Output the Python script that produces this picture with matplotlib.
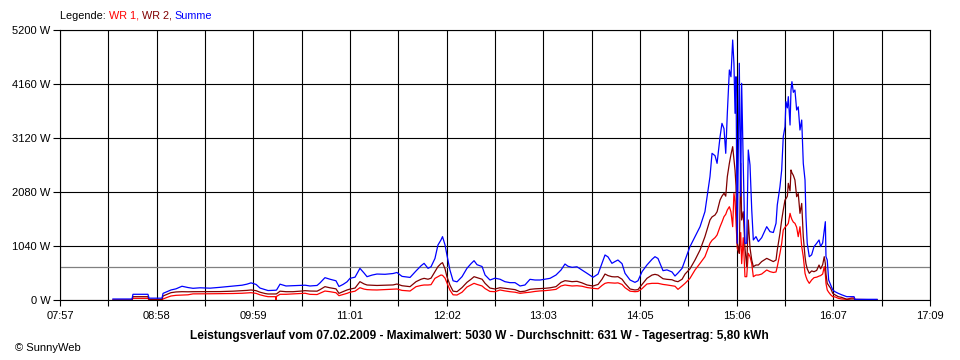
import numpy as np
import matplotlib
matplotlib.use('Agg')
import matplotlib.pyplot as plt

plt.rcParams['font.family'] = ['Liberation Sans', 'DejaVu Sans']

# --- Data (time in minutes since midnight, power in W) ---
t_min = [510.6, 522.7, 523.3, 532.8, 533.5, 541.7, 542.4, 544.9, 547.4, 550.6,
         554.4, 558.2, 561.4, 565.8, 572.2, 578.5, 586.8, 592.5, 595.6, 598.2,
         601.4, 603.9, 607.1, 609.0, 612.1, 613.7, 614.0, 614.4, 616.6, 620.4,
         624.8, 629.3, 632.5, 635.6, 640.1, 642.0, 645.1, 648.3, 652.1, 654.0,
         656.6, 659.1, 661.0, 664.2, 667.3, 669.9, 671.8, 675.0, 678.1, 683.2,
         688.3, 690.8, 694.0, 699.1, 702.9, 706.1, 708.0, 710.5, 712.4, 714.9,
         716.8, 718.7, 719.7, 721.3, 722.5, 724.4, 726.4, 728.9, 732.1, 735.2,
         737.8, 739.7, 741.6, 744.8, 746.7, 749.8, 753.0, 756.2, 759.3, 762.5,
         765.7, 768.9, 772.0, 775.2, 778.4, 781.6, 784.7, 787.9, 791.7, 794.9,
         797.4, 799.3, 801.9, 805.0, 808.2, 811.4, 815.2, 818.4, 820.9, 822.8,
         824.7, 827.2, 829.1, 831.0, 833.6, 835.5, 838.7, 841.8, 843.7, 846.3,
         849.4, 852.6, 854.5, 856.4, 859.6, 862.1, 865.3, 867.2, 869.1, 871.7,
         873.6, 876.7, 879.9, 883.1, 886.2, 889.4, 890.7, 892.6, 893.9, 895.8,
         897.0, 898.3, 899.4, 900.4, 901.7, 902.7, 903.8, 904.6, 905.3, 905.9,
         906.7, 908.0, 908.9, 909.5, 910.5, 911.6, 912.7, 913.7, 914.8, 915.9,
         916.9, 918.6, 920.1, 922.2, 925.4, 927.5, 929.6, 931.3, 932.1, 933.8,
         934.9, 935.9, 937.0, 937.6, 938.5, 939.1, 940.2, 940.8, 941.4, 942.3,
         943.3, 944.4, 945.4, 946.5, 947.6, 948.6, 949.7, 950.3, 951.1, 952.4,
         953.9, 955.4, 957.1, 958.6, 959.6, 960.9, 961.9, 962.6, 963.0, 963.8,
         964.7, 966.0, 967.3, 968.7, 970.8, 973.0, 976.2, 979.3, 980.8, 981.4,
         995.4]

summe = [19, 19, 110, 110, 35, 35, 128, 160, 193, 215,
         265, 240, 225, 235, 228, 244, 268, 285, 305, 330,
         300, 230, 200, 182, 185, 188, 190, 192, 305, 270,
         275, 280, 285, 270, 280, 330, 430, 400, 370, 260,
         300, 350, 417, 440, 610, 520, 449, 480, 500, 495,
         510, 530, 455, 435, 560, 660, 706, 610, 640, 800,
         1059, 1155, 1220, 1060, 867, 578, 370, 350, 450, 610,
         700, 757, 680, 645, 481, 385, 420, 400, 353, 334,
         334, 270, 289, 398, 385, 385, 400, 417, 481, 578,
         693, 650, 629, 640, 578, 514, 437, 500, 706, 867,
         830, 706, 740, 770, 700, 514, 385, 340, 370, 546,
         674, 783, 834, 800, 565, 580, 540, 462, 520, 610,
         770, 1027, 1220, 1412, 1701, 2375, 2825, 2780, 2632, 3145,
         3402, 3300, 2825, 3595, 4430, 4300, 5007, 4559, 3595, 4300,
         1092, 4559, 2000, 4173, 2632, 1092, 1092, 2889, 2600, 1733,
         1156, 1220, 1125, 1200, 1412, 1316, 1300, 1477, 1830, 2183,
         2504, 3145, 3338, 3820, 3700, 3916, 3370, 4044, 4205, 4000,
         4044, 3659, 3720, 3274, 3466, 2632, 2311, 1605, 1092, 834,
         870, 1027, 1092, 1156, 1030, 1100, 1348, 1508, 834, 770,
         385, 290, 193, 160, 128, 100, 64, 64, 64, 13,
         13]

wr2 = [0, 0, 64, 64, 10, 10, 77, 110, 141, 155,
       160, 158, 160, 160, 160, 162, 170, 180, 185, 193,
       180, 150, 125, 116, 115, 116, 118, 118, 170, 160,
       160, 170, 180, 173, 170, 200, 257, 235, 215, 128,
       160, 193, 210, 230, 353, 310, 289, 285, 280, 285,
       290, 308, 275, 257, 353, 400, 417, 400, 420, 546,
       642, 700, 719, 600, 450, 289, 170, 160, 240, 340,
       400, 449, 430, 400, 321, 230, 212, 237, 225, 212,
       200, 160, 170, 205, 215, 220, 225, 235, 257, 340,
       372, 365, 353, 360, 330, 289, 270, 300, 400, 500,
       470, 449, 445, 449, 400, 321, 212, 193, 200, 300,
       417, 480, 494, 480, 410, 398, 390, 365, 353, 400,
       500, 600, 770, 963, 1220, 1541, 1600, 1637, 1700, 1926,
       2000, 2055, 2000, 2375, 2632, 2800, 2953, 2700, 2500, 2200,
       1100, 899, 2632, 1541, 1700, 1000, 642, 1541, 1000, 770,
       642, 674, 674, 740, 802, 770, 740, 770, 963, 1284,
       1541, 1733, 1926, 1950, 2000, 2247, 2100, 2504, 2450, 2400,
       2311, 1990, 2050, 1669, 1860, 1220, 834, 700, 600, 514,
       560, 545, 570, 674, 600, 680, 834, 700, 500, 321,
       280, 225, 128, 100, 64, 50, 13, 20, 20, 10,
       5]

wr1 = [0, 0, 32, 32, 0, 0, 20, 50, 77, 90,
       96, 100, 118, 118, 120, 122, 125, 130, 135, 141,
       128, 100, 75, 64, 64, 64, 0, 70, 110, 110,
       118, 125, 130, 109, 105, 130, 173, 160, 140, 83,
       105, 128, 150, 170, 237, 210, 200, 195, 193, 200,
       205, 212, 185, 173, 257, 280, 289, 289, 295, 417,
       450, 481, 475, 420, 330, 190, 100, 96, 150, 250,
       290, 321, 300, 270, 220, 165, 160, 193, 175, 160,
       150, 128, 140, 150, 165, 175, 180, 190, 205, 270,
       289, 280, 270, 275, 265, 240, 225, 215, 280, 321,
       334, 330, 325, 330, 300, 237, 170, 160, 165, 220,
       308, 321, 321, 321, 300, 290, 275, 265, 205, 270,
       321, 417, 578, 706, 834, 1092, 1150, 1200, 1252, 1412,
       1500, 1605, 1650, 1733, 1797, 1700, 1412, 2055, 1900, 1500,
       1000, 899, 1300, 700, 1200, 449, 449, 900, 834, 700,
       449, 481, 481, 500, 578, 546, 530, 540, 642, 899,
       1091, 1348, 1400, 1420, 1450, 1477, 1669, 1600, 1550, 1500,
       1477, 1400, 1220, 1412, 1030, 834, 514, 450, 385, 321,
       385, 430, 440, 460, 470, 500, 642, 500, 320, 193,
       150, 100, 64, 60, 32, 20, 13, 40, 40, 10,
       5]

y_ticks = [0, 1040, 2080, 3120, 4160, 5200]
x_labels = ['07:57', '08:58', '09:59', '11:01', '12:02',
            '13:03', '14:05', '15:06', '16:07', '17:09']
t_start, t_end = 477, 1029
avg_w = 631
title = ('Leistungsverlauf vom 07.02.2009 - Maximalwert: 5030 W - '
         'Durchschnitt: 631 W - Tagesertrag: 5,80 kWh')

# --- Figure ---
fig = plt.figure(figsize=(9.6, 3.6), dpi=100)
ax = fig.add_axes([60 / 960, 60 / 360, 870 / 960, 270 / 360])

ax.set_xlim(t_start, t_end)
ax.set_ylim(0, 5200)

grid_x = np.linspace(t_start, t_end, 19)
ax.set_xticks(grid_x)
ax.set_xticklabels([x_labels[i // 2] if i % 2 == 0 else '' for i in range(19)])
ax.set_yticks(y_ticks)
ax.set_yticklabels([f'{v} W' for v in y_ticks])
ax.tick_params(axis='both', direction='out', color='black', labelsize=8,
               width=0.8)
ax.tick_params(axis='x', length=4, pad=4)
ax.tick_params(axis='y', length=5, pad=2)
ax.grid(True, color='black', linewidth=0.8)
ax.set_axisbelow(True)
for sp in ax.spines.values():
    sp.set_color('black')
    sp.set_linewidth(0.8)

ax.axhline(avg_w, color='#808080', linewidth=0.9, zorder=2)

ax.plot(t_min, wr1, color='#ff0000', linewidth=0.9, zorder=3)
ax.plot(t_min, wr2, color='#800000', linewidth=0.9, zorder=4)
ax.plot(t_min, summe, color='#0000ff', linewidth=0.9, zorder=5)

# Legend as coloured text pieces
renderer = fig.canvas.get_renderer()
x_px = 60
for txt, col in [('Legende: ', 'black'), ('WR 1, ', '#ff0000'),
                 ('WR 2, ', '#800000'), ('Summe', '#0000ff')]:
    t = fig.text(x_px / 960, 1 - 16 / 360, txt, color=col, fontsize=7.8,
                 ha='left', va='center')
    x_px += t.get_window_extent(renderer).width

fig.text(479 / 960, 1 - 336 / 360, title, fontsize=8.6, fontweight='bold',
         ha='center', va='center')
fig.text(15 / 960, 1 - 348 / 360, '\u00a9 SunnyWeb', fontsize=8,
         ha='left', va='center')

plt.savefig('out.png', dpi=100)
plt.close()
